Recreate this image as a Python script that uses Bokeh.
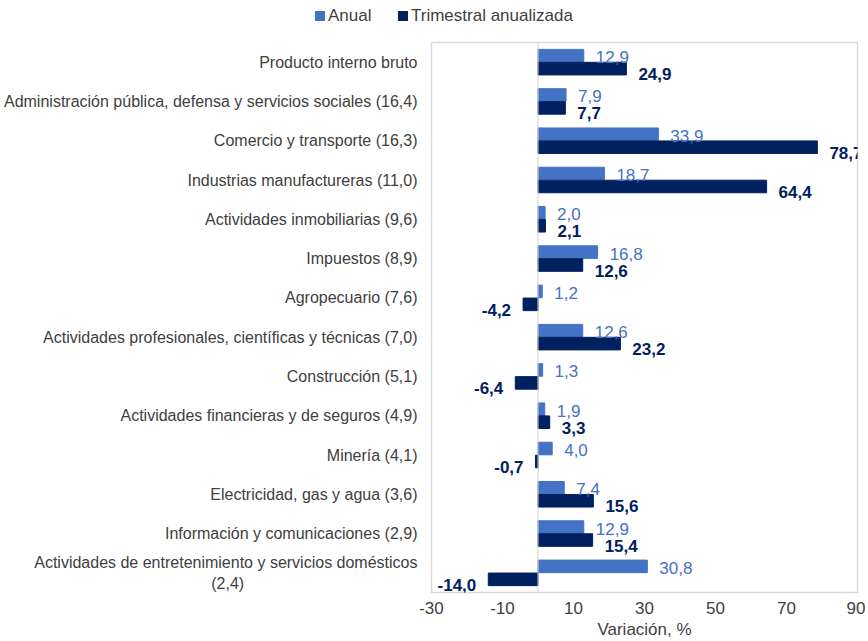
from bokeh.plotting import figure
from bokeh.layouts import column
from bokeh.models import (ColumnDataSource, FactorRange, FixedTicker, LabelSet, Div,
                          Span, Range1d, PrintfTickFormatter)
from bokeh.core.properties import value
from bokeh.transform import dodge
from bokeh.embed import file_html
from bokeh.resources import INLINE

NBSP = "\u00a0"
categories = [
    "Producto interno bruto",
    "Administración pública, defensa y servicios sociales (16,4)",
    "Comercio y transporte (16,3)",
    "Industrias manufactureras (11,0)",
    "Actividades inmobiliarias (9,6)",
    "Impuestos (8,9)",
    "Agropecuario (7,6)",
    "Actividades profesionales, científicas y técnicas (7,0)",
    "Construcción (5,1)",
    "Actividades financieras y de seguros (4,9)",
    "Minería (4,1)",
    "Electricidad, gas y agua (3,6)",
    "Información y comunicaciones (2,9)",
    "Actividades de entretenimiento y servicios domésticos\n(2,4)" + NBSP * 39,
]
anual = [12.9, 7.9, 33.9, 18.7, 2.0, 16.8, 1.2, 12.6, 1.3, 1.9, 4.0, 7.4, 12.9, 30.8]
trimestral = [24.9, 7.7, 78.7, 64.4, 2.1, 12.6, -4.2, 23.2, -6.4, 3.3, -0.7, 15.6, 15.4, -14.0]
x_ticks = [-30, -10, 10, 30, 50, 70, 90]
series_names = ["Anual", "Trimestral anualizada"]

C_ANUAL = "#4472C4"
C_TRIM = "#002060"
FONT = "Liberation Sans"
TXT = "#404040"


def fmt(v):
    return f"{v:.1f}".replace(".", ",")


src = ColumnDataSource(dict(cat=categories, anual=anual, trim=trimestral))

p = figure(
    y_range=FactorRange(factors=list(reversed(categories))),
    x_range=Range1d(-30, 90),
    frame_width=426, frame_height=550,
    min_border_left=431, min_border_right=8, min_border_top=2, min_border_bottom=49,
    output_backend="svg", toolbar_location=None,
)

r1 = p.hbar(y=dodge("cat", 0.165, range=p.y_range), right="anual", left=0, height=0.32,
            source=src, fill_color=C_ANUAL, line_color=C_ANUAL)
r2 = p.hbar(y=dodge("cat", -0.165, range=p.y_range), right="trim", left=0, height=0.32,
            source=src, fill_color=C_TRIM, line_color=C_TRIM)

p.add_layout(Span(location=0, dimension="height", line_color="#d0d0d0", line_width=1))


def label_sets(vals, color, bold, off, yoff):
    pos = [(c, v) for c, v in zip(categories, vals) if v >= 0]
    neg = [(c, v) for c, v in zip(categories, vals) if v < 0]
    out = []
    for group, align, xo in ((pos, "left", 12), (neg, "right", -12)):
        if not group:
            continue
        s = ColumnDataSource(dict(cat=[g[0] for g in group], v=[g[1] for g in group],
                                  t=[fmt(g[1]) for g in group]))
        out.append(LabelSet(x="v", y=dodge("cat", off, range=p.y_range), text="t", source=s,
                            x_offset=xo, y_offset=yoff, text_align=align,
                            text_baseline="middle", text_color=color,
                            text_font=value(FONT), text_font_size="17px",
                            text_font_style="bold" if bold else "normal"))
    return out


for ls in label_sets(anual, C_ANUAL, False, 0.165, -1.5) + label_sets(trimestral, C_TRIM, True, -0.165, -5.5):
    p.add_layout(ls)

p.xaxis.ticker = FixedTicker(ticks=x_ticks)
p.xaxis.formatter = PrintfTickFormatter(format="%d")
p.xaxis.axis_line_color = None
p.xaxis.major_tick_line_color = None
p.xaxis.minor_tick_line_color = None
p.xaxis.major_label_text_font = FONT
p.xaxis.major_label_text_font_size = "17px"
p.xaxis.major_label_text_color = TXT
p.xaxis.major_label_standoff = 3
p.xaxis.axis_label = "Variación, %"
p.xaxis.axis_label_text_font = FONT
p.xaxis.axis_label_text_font_size = "17px"
p.xaxis.axis_label_text_font_style = "normal"
p.xaxis.axis_label_text_color = TXT
p.xaxis.axis_label_standoff = 3

p.yaxis.axis_line_color = None
p.yaxis.major_tick_line_color = None
p.yaxis.minor_tick_line_color = None
p.yaxis.major_label_text_font = FONT
p.yaxis.major_label_text_font_size = "16px"
p.yaxis.major_label_text_color = TXT
p.yaxis.major_label_standoff = 8

p.xgrid.grid_line_color = None
p.ygrid.grid_line_color = None
p.outline_line_color = "#d9d9d9"
p.outline_line_width = 1.5

# legend strip above the chart (HTML, so it can sit left of the plot frame)
sq = "position:absolute;width:10px;height:10px;top:11px;"
tx = f"position:absolute;top:7px;line-height:18px;white-space:nowrap;"
legend_html = (
    f'<div style="position:relative;width:865px;height:40px;font-family:\'{FONT}\';'
    f'font-size:17px;color:{TXT};">'
    f'<span style="{sq}left:315px;background:{C_ANUAL};"></span>'
    f'<span style="{tx}left:328px;">{series_names[0]}</span>'
    f'<span style="{sq}left:398px;background:{C_TRIM};"></span>'
    f'<span style="{tx}left:411px;">{series_names[1]}</span>'
    '</div>'
)
legend_div = Div(text=legend_html, width=865, height=40, margin=(0, 0, 0, 0))

layout = column(legend_div, p, spacing=0)
open("out.html", "w").write(file_html(layout, INLINE))
